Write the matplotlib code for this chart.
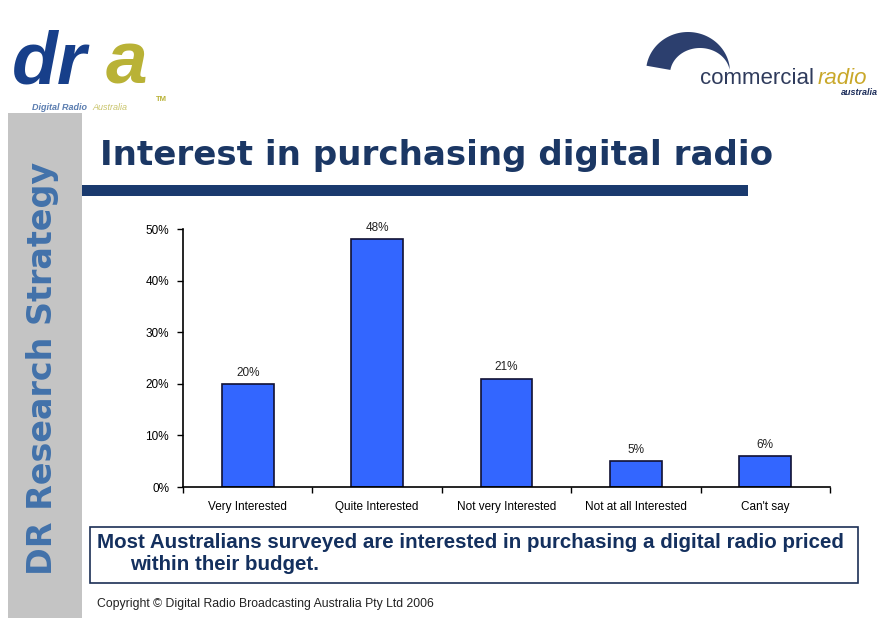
import matplotlib.pyplot as plt
import matplotlib.patches as patches
import numpy as np

plt.rcParams['font.family'] = ['Liberation Sans', 'DejaVu Sans']

# survey results
categories = ['Very Interested', 'Quite Interested', 'Not very Interested',
              'Not at all Interested', "Can't say"]
shares = [20, 48, 21, 5, 6]
y_ticks = [0, 10, 20, 30, 40, 50]

W, H = 879, 618
fig = plt.figure(figsize=(W / 100, H / 100), dpi=100)
fig.patch.set_facecolor('white')


def fx(x):
    return x / W


def fy(y):
    return 1 - y / H


# grey side strip with vertical heading
fig.patches.append(patches.Rectangle((fx(8), 0), fx(74), fy(113), transform=fig.transFigure,
                                     facecolor='#c4c4c4', edgecolor='none'))
fig.text(fx(43), fy(368), 'DR Research Strategy', rotation=90, ha='center', va='center',
         fontsize=24, fontweight='bold', color='#4272aa', family='DejaVu Sans')

# dra logo
fig.text(fx(12), fy(84), 'dr', fontsize=54, fontweight='bold', style='italic',
         color='#173f8a', ha='left', va='baseline')
fig.text(fx(106), fy(84), 'a', fontsize=54, fontweight='bold', style='italic',
         color='#b9b236', ha='left', va='baseline')
fig.text(fx(32), fy(110), 'Digital Radio', fontsize=6.5, fontweight='bold', style='italic',
         color='#5b7db0', ha='left', va='baseline')
fig.text(fx(92), fy(110), 'Australia', fontsize=6.5, style='italic',
         color='#c9c46a', ha='left', va='baseline')
fig.text(fx(156), fy(101), 'TM', fontsize=5.5, fontweight='bold',
         color='#b9b236', ha='left', va='baseline')

# commercial radio logo: crescent swoosh
t = np.linspace(np.pi * 0.05, np.pi * 0.95, 60)
outer = np.column_stack([688 + 42 * np.cos(t), 72 - 40 * np.sin(t)])
inner = np.column_stack([700 + 30 * np.cos(t[::-1]), 74 - 26 * np.sin(t[::-1])])
crescent = np.vstack([outer, inner])
fig.patches.append(patches.Polygon(np.column_stack([crescent[:, 0] / W, 1 - crescent[:, 1] / H]),
                                   closed=True, transform=fig.transFigure,
                                   facecolor='#2c3f6e', edgecolor='none'))
fig.text(fx(700), fy(84), 'commercial', fontsize=16, color='#2f3b5c',
         ha='left', va='baseline')
fig.text(fx(818), fy(84), 'radio', fontsize=16, style='italic', color='#c9a82a',
         ha='left', va='baseline')
fig.text(fx(878), fy(95), 'australia', fontsize=6.5, fontweight='bold', style='italic',
         color='#1c2d5a', ha='right', va='baseline')

# title and rule
fig.text(fx(100), fy(156), 'Interest in purchasing digital radio', fontsize=24.6,
         fontweight='bold', color='#1b3764', ha='left', va='center', family='DejaVu Sans')
fig.patches.append(patches.Rectangle((fx(82), fy(196)), fx(666), 11 / H,
                                     transform=fig.transFigure,
                                     facecolor='#1a3a6e', edgecolor='none'))

# bar chart
ax = fig.add_axes([fx(183), fy(487), fx(830 - 183), (487 - 229) / H])
x = np.arange(len(categories))
ax.bar(x, shares, width=0.4, color='#3366ff', edgecolor='#111133', linewidth=1.2)
for xi, v in zip(x, shares):
    ax.text(xi, v + 1.0, f'{v}%', ha='center', va='bottom', fontsize=8.5, color='#222222')

ax.set_xlim(-0.5, len(categories) - 0.5)
ax.set_ylim(0, 50)
ax.set_yticks(y_ticks)
ax.set_yticklabels([f'{v}%' for v in y_ticks], fontsize=8.5)
ax.set_xticks(x)
ax.set_xticklabels(categories, fontsize=8.5)
ax.set_xticks(np.arange(-0.5, len(categories)), minor=True)
ax.tick_params(axis='x', which='major', length=0, pad=10)
ax.tick_params(axis='x', which='minor', length=4, direction='out', width=1)
ax.tick_params(axis='y', length=4, width=1, direction='out', pad=6)
for side in ('top', 'right'):
    ax.spines[side].set_visible(False)
for side in ('left', 'bottom'):
    ax.spines[side].set_linewidth(1.2)

# summary box
fig.patches.append(patches.Rectangle((fx(90), fy(583)), fx(768), 56 / H,
                                     transform=fig.transFigure, facecolor='white',
                                     edgecolor='#1b2f55', linewidth=1.2))
fig.text(fx(97), fy(542), 'Most Australians surveyed are interested in purchasing a digital radio priced',
         fontsize=14.8, fontweight='bold', color='#14305e', ha='left', va='center')
fig.text(fx(130), fy(565), 'within their budget.', fontsize=14.8, fontweight='bold',
         color='#14305e', ha='left', va='center')

fig.text(fx(97), fy(604), 'Copyright \u00a9 Digital Radio Broadcasting Australia Pty Ltd 2006',
         fontsize=8.8, color='#222222', ha='left', va='center')

fig.savefig('out.png', dpi=100, facecolor='white')
